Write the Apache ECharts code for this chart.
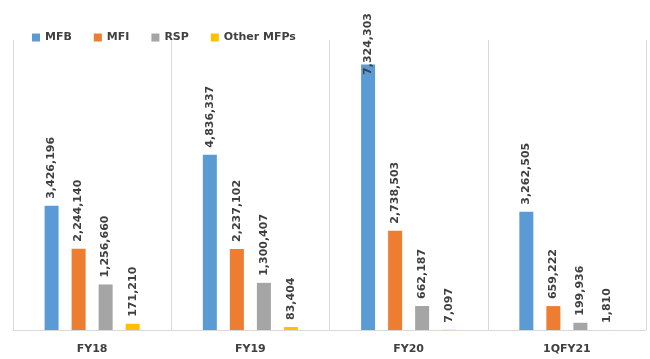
<!DOCTYPE html>
<html>
<head>
<meta charset="utf-8">
<script src="https://cdn.jsdelivr.net/npm/echarts@6/dist/echarts.min.js"></script>
<style>
  html, body { margin: 0; padding: 0; background: #fff; }
  #chart { width: 650px; height: 359px; }
</style>
</head>
<body>
<div id="chart"></div>
<script>
var categories = ['FY18', 'FY19', 'FY20', '1QFY21'];
var mfb = [3426196, 4836337, 7324303, 3262505];
var mfi = [2244140, 2237102, 2738503, 659222];
var rsp = [1256660, 1300407, 662187, 199936];
var otherMfps = [171210, 83404, 7097, 1810];

var textColor = '#404040';
var font = 'DejaVu Sans';

function makeSeries(name, data, color) {
    return {
        name: name,
        type: 'bar',
        data: data,
        barWidth: 14,
        barGap: '93%',
        itemStyle: { color: color },
        label: {
            show: true,
            position: 'top',
            rotate: 90,
            align: 'left',
            verticalAlign: 'middle',
            distance: 7,
            color: textColor,
            fontFamily: font,
            fontWeight: 'bold',
            fontSize: 11,
            formatter: function (p) {
                return p.value.toLocaleString('en-US');
            }
        },
        // keep labels inside the chart area like excel does
        labelLayout: function (p) {
            var len = Math.max(p.labelRect.width, p.labelRect.height);
            var top = p.rect.y - 7 - len;
            if (top < 13) {
                return { y: 13 + len };
            }
        }
    };
}

var myChart = echarts.init(document.getElementById('chart'));
var option = {
    animation: false,
    legend: {
        left: 27,
        top: 27,
        itemWidth: 8,
        itemHeight: 8,
        itemGap: 22,
        icon: 'rect',
        textStyle: { color: textColor, fontFamily: font, fontWeight: 'bold', fontSize: 11 },
        data: ['MFB', 'MFI', 'RSP', 'Other MFPs']
    },
    grid: { left: 13, right: 4, top: 40, bottom: 29, containLabel: false },
    xAxis: {
        type: 'category',
        data: categories,
        axisTick: { show: false },
        axisLine: { lineStyle: { color: '#d9d9d9' } },
        splitLine: { show: true, lineStyle: { color: '#d9d9d9' } },
        axisLabel: { margin: 14, color: textColor, fontFamily: font, fontWeight: 'bold', fontSize: 11 }
    },
    yAxis: {
        type: 'value',
        min: 0,
        max: 8000000,
        show: false,
        splitLine: { show: false }
    },
    series: [
        makeSeries('MFB', mfb, '#5b9bd5'),
        makeSeries('MFI', mfi, '#ed7d31'),
        makeSeries('RSP', rsp, '#a5a5a5'),
        makeSeries('Other MFPs', otherMfps, '#ffc000')
    ]
};
myChart.setOption(option);
</script>
</body>
</html>
